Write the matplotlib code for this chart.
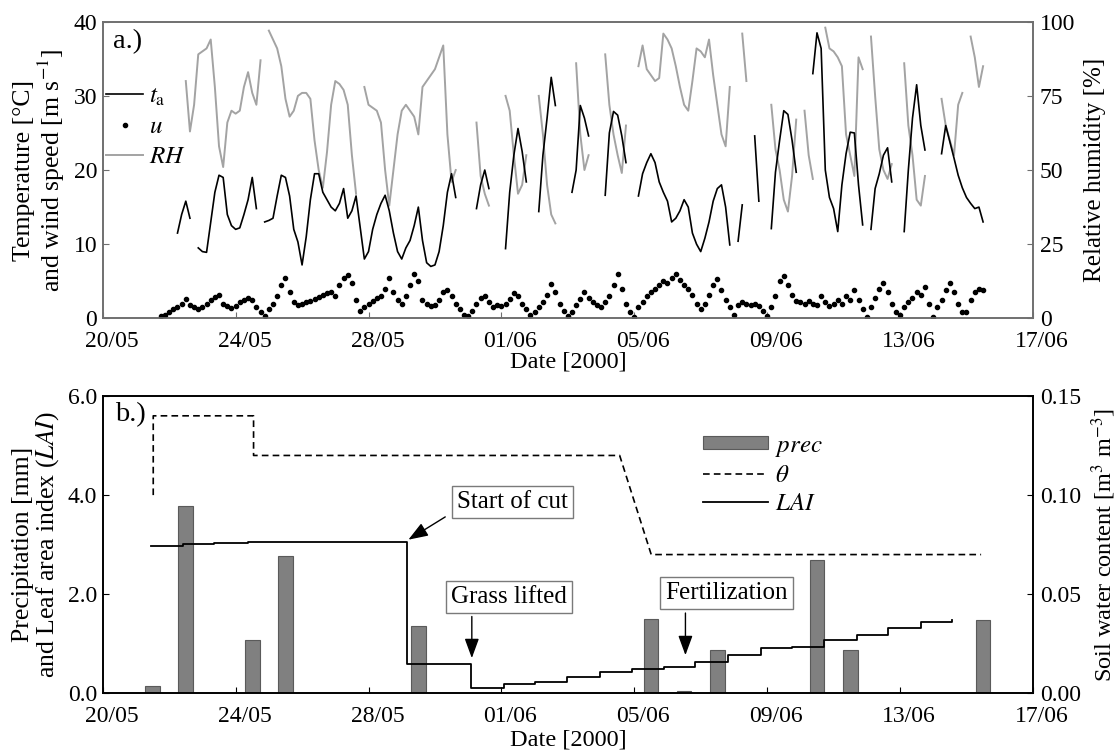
import numpy as np
import pandas as pd
import matplotlib
matplotlib.use('Agg')
import matplotlib.pyplot as plt
import matplotlib.dates as mdates
import matplotlib.transforms as mtransforms
from matplotlib.lines import Line2D
from matplotlib.ticker import FixedLocator, FormatStrFormatter

nan = np.nan

plt.rcParams['font.family'] = ['Liberation Serif', 'DejaVu Serif']
plt.rcParams['mathtext.fontset'] = 'stix'
plt.rcParams['font.size'] = 16.5

# 3-hourly record, 21/05 18:00 .. 15/06 12:00
times = pd.date_range('2000-05-21 18:00', '2000-06-15 12:00', freq='3h')

# air temperature [degC]
ta = [
    nan, nan,
    9.7, nan, 11.5, 14.0, 15.8, 13.5, nan, 9.5,      # 22/05
    9.0, 8.9, 13.0, 17.0, 19.3, 19.0, 14.0, 12.5,    # 23/05
    12.0, 12.2, 14.0, 16.0, 19.0, 14.8, nan, 13.0,   # 24/05
    13.2, 13.5, 16.5, 19.3, 19.0, 16.5, 12.0, 10.3,  # 25/05
    7.2, 11.0, 16.0, 19.5, 19.5, 17.0, 16.0, 15.0,   # 26/05
    14.5, 15.5, 17.5, 13.5, 14.5, 16.5, 12.3, 8.0,   # 27/05
    9.0, 12.0, 14.0, 15.5, 16.6, 14.5, 11.5, 9.0,    # 28/05
    8.0, 9.5, 10.5, 12.5, 15.0, 10.5, 7.5, 7.0,      # 29/05
    7.2, 9.0, 12.5, 17.0, 19.5, 16.3, nan, nan,      # 30/05
    nan, nan, 14.8, 18.0, 20.0, 17.5, nan, nan,      # 31/05
    nan, 9.4, 17.0, 22.0, 25.6, 22.5, 18.4, nan,     # 01/06
    nan, 14.4, 22.0, 27.0, 32.5, 28.7, nan, nan,     # 02/06
    nan, 17.0, 20.0, 28.7, 27.0, 24.6, nan, nan,     # 03/06
    nan, 16.6, 25.0, 27.9, 27.4, 24.6, 21.0, nan,    # 04/06
    nan, 16.5, 19.5, 21.0, 22.2, 21.0, 18.4, 17.0,   # 05/06
    15.8, 13.0, 13.5, 14.5, 16.0, 15.0, 11.5, 10.0,  # 06/06
    9.0, 10.8, 13.0, 15.8, 17.5, 18.0, 15.0, 9.9,    # 07/06
    nan, 10.4, 15.3, nan, nan, 24.6, 15.8, nan,      # 08/06
    nan, 12.1, 19.7, 24.0, 28.0, 27.5, 24.0, 19.7,   # 09/06
    nan, nan, nan, 33.0, 38.5, 36.4, 20.0, 16.3,     # 10/06
    14.8, 11.7, 18.0, 22.2, 25.1, 25.0, 18.0, 12.6,  # 11/06
    nan, 12.0, 17.5, 19.5, 22.0, 23.0, 18.4, nan,    # 12/06
    nan, 11.7, 20.0, 27.0, 31.5, 26.0, 22.7, nan,    # 13/06
    nan, nan, 22.2, 26.0, 23.8, 21.6, 19.3, 17.6,    # 14/06
    16.3, 15.5, 14.8, 15.0, 13.0,                    # 15/06
]

# relative humidity [%]
rh = [
    nan, nan,
    nan, nan, nan, nan, 80, 63, 72, 89,   # 22/05
    90, 91, 94, 78, 58, 51, 66, 70,       # 23/05
    69, 70, 78, 83, 76, 72, 87, nan,      # 24/05
    97, 94, 91, 85, 74, 68, 70, 75,       # 25/05
    76, 76, 74, 60, 50, 44, 56, 72,       # 26/05
    80, 79, 77, 72, 55, 42, nan, 78,      # 27/05
    72, 71, 70, 66, 50, 38, 50, 62,       # 28/05
    70, 72, 70, 68, 62, 78, 80, 82,       # 29/05
    84, 88, 92, 62, 46, 50, nan, nan,     # 30/05
    nan, nan, 66, 48, 42, 38, nan, nan,   # 31/05
    nan, 75, 70, 55, 42, 45, 55, nan,     # 01/06
    nan, 75, 62, 45, 35, 32, nan, nan,    # 02/06
    nan, nan, 86, 62, 50, 55, nan, nan,   # 03/06
    nan, 89, 72, 62, 55, 49, 65, nan,     # 04/06
    nan, 85, 92, 84, 82, 80, 81, 96,      # 05/06
    94, 91, 85, 78, 72, 70, 80, 91,       # 06/06
    90, 88, 94, 82, 72, 62, 58, 78,       # 07/06
    nan, nan, 96, 80, nan, nan, nan, nan, # 08/06
    nan, 72, 57, 50, 40, 36, 48, 67,      # 09/06
    nan, 70, 55, 47, nan, nan, 98, 91,    # 10/06
    90, 88, 85, 62, 55, 48, 88, 84,       # 11/06
    nan, 95, 75, 57, 50, 47, 52, nan,     # 12/06
    nan, 86, 65, 55, 40, 38, 48, nan,     # 13/06
    nan, nan, 74, 65, 60, 55, 72, 76,     # 14/06
    nan, 95, 88, 78, 85,                  # 15/06
]

# wind speed [m/s]
u = [
    0.3, 0.5,
    0.8, 1.2, 1.5, 2.0, 2.6, 1.8, 1.5, 1.3,   # 22/05
    1.5, 2.0, 2.5, 2.9, 3.2, 2.0, 1.6, 1.4,   # 23/05
    1.6, 2.2, 2.5, 2.8, 2.5, 1.5, 0.8, 0.3,   # 24/05
    1.2, 2.0, 3.0, 4.5, 5.4, 3.5, 2.2, 1.8,   # 25/05
    1.9, 2.2, 2.4, 2.6, 2.9, 3.2, 3.4, 3.5,   # 26/05
    3.0, 4.5, 5.5, 5.8, 4.8, 2.5, 1.0, 1.5,   # 27/05
    2.0, 2.3, 2.8, 3.0, 4.0, 5.5, 3.5, 2.5,   # 28/05
    2.0, 3.0, 4.5, 6.0, 5.0, 2.5, 2.0, 1.6,   # 29/05
    1.8, 2.5, 3.5, 3.8, 3.0, 2.0, 1.2, 0.5,   # 30/05
    0.3, 1.0, 2.0, 2.8, 3.0, 2.2, 1.5, 1.8,   # 31/05
    1.6, 2.0, 2.6, 3.4, 3.0, 2.0, 1.2, 0.5,   # 01/06
    0.8, 1.5, 2.2, 3.2, 4.6, 3.5, 2.0, 1.0,   # 02/06
    0.3, 0.8, 1.8, 2.6, 3.5, 2.7, 2.2, 1.8,   # 03/06
    1.5, 2.2, 3.0, 4.5, 6.0, 4.0, 2.0, 0.8,   # 04/06
    0.2, 1.5, 2.2, 3.0, 3.6, 4.0, 4.5, 5.0,   # 05/06
    4.8, 5.5, 6.0, 5.2, 4.5, 4.0, 3.2, 2.0,   # 06/06
    1.3, 2.0, 3.2, 4.5, 5.3, 3.8, 2.5, 1.5,   # 07/06
    0.5, 1.8, 2.2, 2.0, 1.8, 2.0, 1.6, 1.0,   # 08/06
    0.3, 1.5, 3.0, 5.0, 5.7, 4.5, 3.2, 2.4,   # 09/06
    2.2, 1.9, 2.4, 2.0, 1.8, 3.0, 2.2, 1.6,   # 10/06
    2.0, 2.5, 2.0, 3.0, 2.5, 3.8, 2.5, 1.2,   # 11/06
    0.2, 1.5, 2.8, 4.0, 4.8, 3.5, 2.0, 0.8,   # 12/06
    0.5, 1.5, 2.2, 2.8, 3.5, 3.2, 4.2, 2.0,   # 13/06
    0.2, 1.5, 2.5, 3.8, 4.8, 3.5, 2.0, 0.8,   # 14/06
    0.8, 2.5, 3.5, 4.0, 3.8,                  # 15/06
]

# panel b: day numbers counted from 20/05 00:00
prec_day = [1.5, 2.5, 4.5, 5.5, 9.5, 16.5, 17.5, 18.5, 21.5, 22.5, 26.5]
prec = [0.15, 3.77, 1.08, 2.77, 1.36, 1.50, 0.05, 0.87, 2.69, 0.87, 1.48]

theta_day = [1.52, 1.52, 4.54, 4.54, 15.56, 16.51, 26.44]
theta = [0.10, 0.14, 0.14, 0.12, 0.12, 0.07, 0.07]

lai_day = [1.46, 2.43, 3.36, 4.36, 9.17, 11.09, 12.07, 13.02, 13.99, 14.98,
           15.93, 16.89, 17.82, 18.81, 19.80, 20.75, 21.72, 22.71, 23.63,
           24.62, 25.57]
lai = [2.98, 3.02, 3.04, 3.06, 0.59, 0.10, 0.18, 0.23, 0.32, 0.44,
       0.50, 0.54, 0.63, 0.77, 0.91, 0.94, 1.08, 1.18, 1.31, 1.44, 1.48]

base = mdates.date2num(pd.Timestamp('2000-05-20').to_pydatetime())
t = mdates.date2num(times.to_pydatetime())
xticks = base + np.arange(0, 29, 4)

fig = plt.figure(figsize=(11.18, 7.54), dpi=100)
ax1 = fig.add_axes([0.0919, 0.5778, 0.8320, 0.3934])
ax1r = ax1.twinx()
ax1.set_zorder(ax1r.get_zorder() + 1)
ax1.patch.set_visible(False)

ax1r.plot(t, rh, color='#a3a3a3', lw=1.4)
ax1.plot(t, ta, color='black', lw=1.2)
ax1.plot(t, u, ls='none', marker='o', ms=3.0, color='black')

ax1.set_ylim(0, 40)
ax1r.set_ylim(0, 100)
ax1.set_xlim(base, base + 28)
ax1.set_yticks([0, 10, 20, 30, 40])
ax1r.set_yticks([0, 25, 50, 75, 100])

frame = '#6f6f6f'
for a in (ax1, ax1r):
    for s in a.spines.values():
        s.set_color(frame)
        s.set_linewidth(1.2)
ax1.tick_params(direction='in', length=4, color=frame, pad=4, labelsize=17)
ax1r.tick_params(direction='in', length=4, color=frame, pad=5, labelsize=17)
ax1.tick_params(axis='x', pad=9)

ax1.set_ylabel('Temperature [°C]\nand wind speed [m s$^{-1}$]',
               linespacing=1.0, fontsize=18.5, labelpad=5)
ax1r.set_ylabel('Relative humidity [%]', fontsize=18, labelpad=6)
ax1.set_xlabel('Date [2000]', fontsize=17.5)
ax1.xaxis.set_label_coords(0.5, -0.112)
ax1.text(0.011, 0.975, 'a.)', transform=ax1.transAxes, fontsize=20.5,
         va='top', ha='left')

h_top = [Line2D([], [], color='black', lw=1.2),
         Line2D([], [], ls='none', marker='o', ms=3.0, color='black'),
         Line2D([], [], color='#a3a3a3', lw=1.4)]
ax1.legend(h_top, [r'$t_{\rm a}$', r'$u$', r'$RH$'], loc='upper left',
           bbox_to_anchor=(0.004, 0.785), frameon=False, fontsize=18,
           handlelength=1.45, handletextpad=0.25, labelspacing=0.3,
           borderpad=0, borderaxespad=0)

# panel b
ax2 = fig.add_axes([0.0919, 0.0805, 0.8320, 0.3943])
ax2r = ax2.twinx()

bars = ax2.bar(base + np.array(prec_day), prec, width=0.44, color='#808080',
               edgecolor='#5a5a5a', lw=0.8)
lai_line, = ax2.plot(base + np.array(lai_day), lai, drawstyle='steps-post',
                     color='black', lw=1.3)
th_line, = ax2r.plot(base + np.array(theta_day), theta, color='black',
                     lw=1.2, ls=(0, (4, 2.5)))

ax2.set_xlim(base, base + 28)
ax2.set_ylim(0, 6)
ax2r.set_ylim(0, 0.15)
ax2.set_yticks([0, 2, 4, 6])
ax2r.set_yticks([0, 0.05, 0.10, 0.15])
ax2.yaxis.set_major_formatter(FormatStrFormatter('%.1f'))
ax2r.yaxis.set_major_formatter(FormatStrFormatter('%.2f'))
for a in (ax2, ax2r):
    for s in a.spines.values():
        s.set_color('black')
        s.set_linewidth(1.2)
ax2.tick_params(direction='in', length=4, pad=4, labelsize=17)
ax2r.tick_params(direction='in', length=4, pad=5, labelsize=17)
ax2.tick_params(axis='x', pad=9)

ax2.set_ylabel('Precipitation [mm]\nand Leaf area index ($LAI$)',
               linespacing=1.0, fontsize=18.5, labelpad=5)
ax2r.set_ylabel('Soil water content [m$^3$ m$^{-3}$]', fontsize=17.5,
                labelpad=6)
ax2.set_xlabel('Date [2000]', fontsize=17.5)
ax2.xaxis.set_label_coords(0.5, -0.122)
ax2.text(0.013, 0.978, 'b.)', transform=ax2.transAxes, fontsize=20.5,
         va='top', ha='left')

ax2r.legend([bars, th_line, lai_line], [r'$prec$', r'$\theta$', r'$LAI$'],
            loc='upper left', bbox_to_anchor=(0.645, 0.87), frameon=False,
            fontsize=18, handlelength=2.6, handleheight=0.45,
            handletextpad=0.3, labelspacing=0.25, borderpad=0,
            borderaxespad=0)

box = dict(boxstyle='square,pad=0.2', fc='white', ec='#7a7a7a', lw=1)
arrow = dict(arrowstyle='-|>,head_length=0.6,head_width=0.22', color='black',
             lw=1.0, mutation_scale=20, shrinkA=0, shrinkB=0)

ax2.text(base + 12.33, 3.86, 'Start of cut', ha='center', va='center',
         fontsize=18, bbox=box)
ax2.annotate('', xy=(base + 9.2, 3.1), xytext=(base + 10.31, 3.56),
             arrowprops=arrow)
ax2.text(base + 12.23, 1.95, 'Grass lifted', ha='center', va='center',
         fontsize=18, bbox=box)
ax2.annotate('', xy=(base + 11.11, 0.71), xytext=(base + 11.11, 1.55),
             arrowprops=arrow)
ax2.text(base + 18.77, 2.03, 'Fertilization', ha='center', va='center',
         fontsize=18, bbox=box)
ax2.annotate('', xy=(base + 17.54, 0.77), xytext=(base + 17.54, 1.62),
             arrowprops=arrow)

off = mtransforms.ScaledTranslation(9 / 100, 0, fig.dpi_scale_trans)
for a in (ax1, ax2):
    a.xaxis.set_major_locator(FixedLocator(xticks))
    a.xaxis.set_major_formatter(mdates.DateFormatter('%d/%m'))
    for lab in a.get_xticklabels():
        lab.set_transform(lab.get_transform() + off)

fig.savefig('out.png', dpi=100)
